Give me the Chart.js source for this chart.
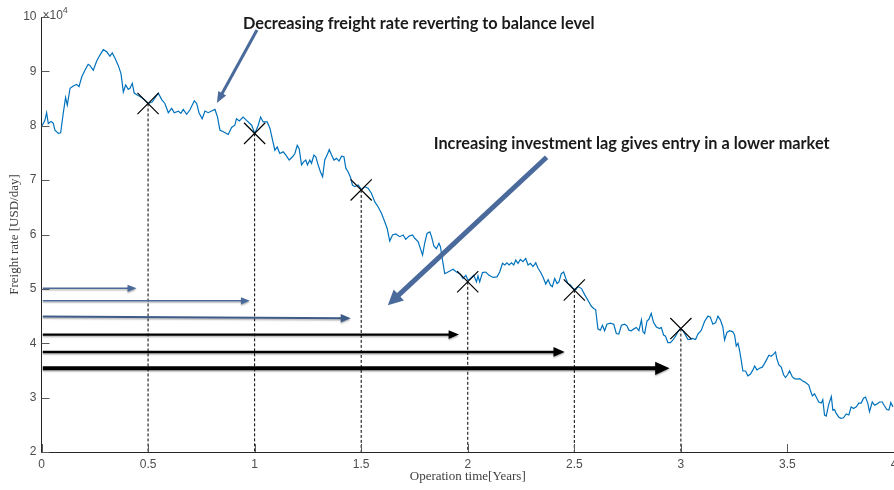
<!DOCTYPE html>
<html>
<head>
<meta charset="utf-8">
<script src="https://cdn.jsdelivr.net/npm/chart.js@4/dist/chart.umd.min.js"></script>
<style>
  html, body { margin: 0; padding: 0; background: #ffffff; overflow: hidden; }
  #wrap { width: 894px; height: 490px; position: relative; }
  canvas { display: block; }
</style>
</head>
<body>
<div id="wrap"><canvas id="c" width="894" height="490"></canvas></div>
<script>
// Simulated freight rate path: time in years, rate in units of 10^4 USD/day
const yearsT = [0.001,0.016,0.024,0.032,0.045,0.055,0.063,0.079,0.090,0.102,0.113,0.121,0.134,0.149,0.165,0.176,0.189,0.204,0.219,0.227,0.243,0.259,0.274,0.290,0.306,0.321,0.332,0.345,0.360,0.373,0.384,0.395,0.407,0.415,0.426,0.435,0.451,0.470,0.485,0.501,0.520,0.548,0.564,0.579,0.595,0.611,0.623,0.642,0.654,0.665,0.681,0.696,0.717,0.728,0.739,0.754,0.767,0.782,0.798,0.814,0.826,0.837,0.853,0.876,0.892,0.907,0.915,0.928,0.946,0.962,0.986,1.001,1.017,1.028,1.040,1.059,1.072,1.084,1.095,1.106,1.118,1.134,1.147,1.162,1.178,1.189,1.200,1.209,1.220,1.231,1.240,1.248,1.259,1.267,1.278,1.287,1.298,1.309,1.319,1.329,1.340,1.350,1.361,1.372,1.384,1.396,1.408,1.419,1.428,1.439,1.450,1.459,1.470,1.486,1.502,1.517,1.532,1.548,1.564,1.579,1.595,1.611,1.622,1.634,1.647,1.662,1.681,1.697,1.709,1.725,1.741,1.751,1.767,1.778,1.788,1.798,1.809,1.822,1.830,1.841,1.853,1.865,1.872,1.884,1.892,1.903,1.916,1.931,1.947,1.963,1.978,1.991,2.001,2.013,2.028,2.041,2.048,2.056,2.069,2.084,2.100,2.119,2.137,2.150,2.163,2.174,2.184,2.194,2.205,2.216,2.225,2.236,2.247,2.259,2.272,2.283,2.294,2.306,2.319,2.330,2.341,2.353,2.366,2.377,2.388,2.397,2.408,2.419,2.428,2.439,2.450,2.460,2.470,2.482,2.494,2.506,2.517,2.533,2.549,2.564,2.580,2.591,2.600,2.611,2.622,2.632,2.642,2.653,2.669,2.685,2.697,2.709,2.721,2.736,2.747,2.756,2.768,2.778,2.791,2.803,2.815,2.822,2.830,2.841,2.850,2.861,2.872,2.885,2.900,2.908,2.919,2.928,2.939,2.951,2.963,2.975,2.986,2.997,3.010,3.022,3.033,3.044,3.054,3.069,3.080,3.096,3.111,3.127,3.138,3.150,3.163,3.174,3.185,3.197,3.205,3.216,3.229,3.244,3.252,3.260,3.268,3.275,3.283,3.291,3.304,3.314,3.326,3.338,3.346,3.357,3.369,3.382,3.393,3.401,3.413,3.424,3.435,3.444,3.450,3.460,3.471,3.482,3.491,3.502,3.510,3.523,3.533,3.544,3.557,3.570,3.580,3.591,3.600,3.607,3.617,3.627,3.638,3.647,3.659,3.666,3.674,3.682,3.694,3.706,3.713,3.721,3.729,3.741,3.752,3.763,3.776,3.788,3.799,3.810,3.823,3.835,3.846,3.857,3.866,3.877,3.885,3.898,3.909,3.919,3.932,3.945,3.955,3.966,3.976,3.985,3.995];
const rateE4 = [7.99,8.10,8.24,8.04,8.08,8.05,7.92,7.86,7.87,8.23,8.52,8.38,8.69,8.73,8.76,8.72,8.90,9.02,9.13,9.11,9.02,9.19,9.30,9.40,9.36,9.28,9.34,9.24,9.11,8.96,8.62,8.75,8.67,8.69,8.78,8.60,8.56,8.52,8.47,8.41,8.44,8.60,8.48,8.41,8.24,8.32,8.24,8.27,8.23,8.30,8.21,8.29,8.46,8.41,8.24,8.13,8.27,8.24,8.27,8.30,8.16,7.92,7.89,7.84,7.97,8.01,8.13,8.09,8.16,8.10,8.01,7.86,8.01,8.16,8.07,8.07,7.95,7.74,7.55,7.61,7.49,7.52,7.46,7.37,7.43,7.49,7.64,7.58,7.28,7.34,7.37,7.28,7.37,7.31,7.46,7.43,7.28,7.15,7.06,7.37,7.46,7.56,7.46,7.37,7.40,7.35,7.44,7.43,7.22,7.15,7.05,6.91,6.88,6.91,6.82,6.88,6.85,6.76,6.60,6.51,6.39,6.23,6.11,5.88,5.99,6.01,5.96,5.99,5.91,5.97,5.99,5.93,5.87,5.74,5.62,5.84,6.02,6.05,5.96,5.79,5.74,5.84,5.77,5.47,5.28,5.30,5.33,5.36,5.31,5.28,5.19,5.25,5.16,5.19,5.25,5.13,5.24,5.13,5.30,5.31,5.25,5.21,5.22,5.31,5.47,5.44,5.48,5.44,5.48,5.44,5.53,5.47,5.54,5.50,5.56,5.44,5.47,5.41,5.48,5.38,5.31,5.22,5.09,5.17,5.07,5.04,5.19,5.10,5.13,5.28,5.31,5.19,5.10,5.07,5.01,4.98,5.04,5.01,4.89,4.79,4.68,4.64,4.62,4.26,4.24,4.33,4.23,4.35,4.37,4.35,4.18,4.17,4.33,4.35,4.32,4.24,4.23,4.26,4.29,4.23,4.43,4.21,4.18,4.41,4.44,4.55,4.38,4.30,4.27,4.29,4.15,4.13,4.01,4.01,4.06,4.13,4.21,4.27,4.23,4.15,4.07,4.07,4.09,4.07,4.17,4.24,4.40,4.50,4.48,4.35,4.38,4.50,4.43,4.30,4.06,4.20,4.23,4.21,4.15,3.95,4.00,3.88,3.69,3.49,3.49,3.40,3.43,3.51,3.58,3.51,3.54,3.56,3.63,3.69,3.78,3.76,3.80,3.84,3.72,3.60,3.56,3.42,3.37,3.43,3.49,3.38,3.35,3.34,3.35,3.31,3.29,3.26,3.23,3.14,3.03,3.07,2.99,2.92,2.90,2.96,2.68,2.66,2.88,3.02,2.77,2.78,2.71,2.64,2.62,2.63,2.70,2.68,2.83,2.80,2.83,2.90,2.90,2.99,3.01,2.90,2.74,2.92,2.86,2.88,2.92,2.92,2.85,2.78,2.77,2.91,2.83];

// Market entry after each investment lag (years) and the rate met there
const entryYears = [0.5, 1.0, 1.5, 2.0, 2.5, 3.0];
const entryRates = [8.41, 7.86, 6.82, 5.13, 4.98, 4.27];

// Investment-lag arrows: start time, end time, level at start and at end
const lagStart = 0.006;
const lagEnds = [0.446, 0.978, 1.451, 1.959, 2.455, 2.947];
const lagLevelFrom = [5.01, 4.78, 4.49, 4.16, 3.84, 3.54];
const lagLevelTo   = [5.01, 4.78, 4.46, 4.16, 3.84, 3.54];
const lagColors = ['#4a6a9b', '#4a6a9b', '#3f5b88', '#000000', '#000000', '#000000'];
const lagWidths = [1.5, 1.5, 2, 2.2, 2.6, 4.2];

// Callout arrows (tail -> head) in data coordinates
const callouts = [
  { from: [1.011, 9.76], to: [0.823, 8.42], width: 3, head: [11, 9] },
  { from: [2.370, 7.42], to: [1.625, 4.70], width: 5, head: [15, 15] }
];
const calloutTexts = [
  { text: 'Decreasing freight rate reverting to balance level', at: [1.770, 9.87] },
  { text: 'Increasing investment lag gives entry in a lower market', at: [2.769, 7.66] }
];

const xTicks = [0, 0.5, 1, 1.5, 2, 2.5, 3, 3.5, 4];
const yTicks = [2, 3, 4, 5, 6, 7, 8, 9, 10];

const datasets = [];

datasets.push({
  label: 'Freight rate',
  data: yearsT.map((t, i) => ({ x: t, y: rateE4[i] })),
  showLine: true, borderColor: '#0072BD', borderWidth: 1.2,
  pointRadius: 0, tension: 0, order: 2
});

entryYears.forEach((t, i) => {
  datasets.push({
    label: 'lag ' + t,
    data: [{ x: t, y: entryRates[i] }, { x: t, y: 2 }],
    showLine: true, borderColor: '#000000', borderWidth: 1,
    borderDash: [3, 2], pointRadius: 0, order: 4
  });
});

lagEnds.forEach((t, i) => {
  datasets.push({
    label: 'lag arrow ' + i,
    data: [{ x: lagStart, y: lagLevelFrom[i] }, { x: t, y: lagLevelTo[i] }],
    showLine: true, borderColor: lagColors[i], borderWidth: lagWidths[i],
    pointRadius: 0, order: 3,
    arrow: { len: 6 + lagWidths[i] * 2, wid: 4 + lagWidths[i] * 2.2, shadow: true }
  });
});

callouts.forEach((c, i) => {
  datasets.push({
    label: 'callout ' + i,
    data: [{ x: c.from[0], y: c.from[1] }, { x: c.to[0], y: c.to[1] }],
    showLine: true, borderColor: '#4a6a9b', borderWidth: c.width,
    pointRadius: 0, order: 1,
    arrow: { len: c.head[0], wid: c.head[1], shadow: false }
  });
});

datasets.push({
  label: 'entry',
  data: entryYears.map((t, i) => ({ x: t, y: entryRates[i] })),
  showLine: false, pointStyle: 'crossRot', pointRadius: 15, pointHoverRadius: 15,
  borderColor: '#000000', borderWidth: 1.2, order: 0
});

function headGeom(chart, i, ds) {
  const pts = chart.getDatasetMeta(i).data;
  const a = pts[pts.length - 2], b = pts[pts.length - 1];
  const ang = Math.atan2(b.y - a.y, b.x - a.x);
  return { b, cos: Math.cos(ang), sin: Math.sin(ang), L: ds.arrow.len, W: ds.arrow.wid };
}

const arrowHeads = {
  id: 'arrowHeads',
  beforeDatasetDraw(chart, args) {
    const ds = chart.data.datasets[args.index];
    if (!ds.arrow) return;
    const ctx = chart.ctx;
    const g = headGeom(chart, args.index, ds);
    const bx = g.b.x - g.cos * g.L * 0.7, by = g.b.y - g.sin * g.L * 0.7;
    const big = 3000;
    ctx.save();
    ctx.beginPath();
    ctx.moveTo(bx - g.sin * big, by + g.cos * big);
    ctx.lineTo(bx + g.sin * big, by - g.cos * big);
    ctx.lineTo(bx + g.sin * big - g.cos * big, by - g.cos * big - g.sin * big);
    ctx.lineTo(bx - g.sin * big - g.cos * big, by + g.cos * big - g.sin * big);
    ctx.closePath();
    ctx.clip();
    if (ds.arrow.shadow) {
      ctx.shadowColor = 'rgba(0,0,0,0.28)';
      ctx.shadowOffsetY = 1.5;
      ctx.shadowBlur = 1.5;
    }
  },
  afterDatasetDraw(chart, args) {
    const ds = chart.data.datasets[args.index];
    if (!ds.arrow) return;
    const ctx = chart.ctx;
    ctx.restore();
    const g = headGeom(chart, args.index, ds);
    ctx.save();
    if (ds.arrow.shadow) {
      ctx.shadowColor = 'rgba(0,0,0,0.28)';
      ctx.shadowOffsetY = 1.5;
      ctx.shadowBlur = 1.5;
    }
    const bx = g.b.x - g.cos * g.L, by = g.b.y - g.sin * g.L;
    ctx.fillStyle = ds.borderColor;
    ctx.beginPath();
    ctx.moveTo(g.b.x, g.b.y);
    ctx.lineTo(bx - g.sin * g.W / 2, by + g.cos * g.W / 2);
    ctx.lineTo(bx + g.sin * g.W / 2, by - g.cos * g.W / 2);
    ctx.closePath();
    ctx.fill();
    ctx.restore();
  }
};

const decorations = {
  id: 'decorations',
  afterDraw(chart) {
    const ctx = chart.ctx;
    const xs = chart.scales.x, ys = chart.scales.y;
    const area = chart.chartArea;
    ctx.save();
    // inward tick marks
    ctx.strokeStyle = '#5a5a5a';
    ctx.lineWidth = 1;
    ctx.beginPath();
    xTicks.forEach(v => {
      const px = Math.round(xs.getPixelForValue(v)) + 0.5;
      ctx.moveTo(px, area.bottom);
      ctx.lineTo(px, area.bottom - 8);
    });
    yTicks.forEach(v => {
      const py = Math.round(ys.getPixelForValue(v)) + 0.5;
      ctx.moveTo(area.left, py);
      ctx.lineTo(area.left + 8, py);
    });
    ctx.stroke();

    // exponent label of the y axis
    ctx.fillStyle = '#4d4d4d';
    ctx.font = '12px "Liberation Sans", Arial, sans-serif';
    ctx.textBaseline = 'alphabetic';
    ctx.textAlign = 'left';
    ctx.fillText('\u00d710', area.left + 1, area.top + 2);
    const w = ctx.measureText('\u00d710').width;
    ctx.font = '9px "Liberation Sans", Arial, sans-serif';
    ctx.fillText('4', area.left + 1 + w, area.top - 4);

    // axis titles
    ctx.fillStyle = '#404040';
    ctx.font = '13px "Liberation Serif", "DejaVu Serif", serif';
    ctx.textAlign = 'center';
    ctx.textBaseline = 'middle';
    ctx.fillText('Operation time[Years]', (area.left + area.right) / 2, 477);
    ctx.save();
    ctx.translate(15, (area.top + area.bottom) / 2);
    ctx.rotate(-Math.PI / 2);
    ctx.fillText('Freight rate [USD/day]', 0, 0);
    ctx.restore();

    // callout texts
    ctx.fillStyle = '#1a1a1a';
    ctx.font = 'bold 16.3px Lato, "Open Sans", sans-serif';
    calloutTexts.forEach(c => {
      ctx.fillText(c.text, xs.getPixelForValue(c.at[0]), ys.getPixelForValue(c.at[1]));
    });
    ctx.restore();
  }
};

new Chart(document.getElementById('c'), {
  type: 'scatter',
  data: { datasets },
  options: {
    responsive: false,
    animation: false,
    devicePixelRatio: 1,
    layout: { autoPadding: false, padding: { top: 17, right: 0, left: 0, bottom: 0 } },
    plugins: { legend: { display: false }, tooltip: { enabled: false } },
    scales: {
      x: {
        type: 'linear', min: 0, max: 4,
        afterBuildTicks: s => { s.ticks = xTicks.map(v => ({ value: v })); },
        afterFit: s => { s.height = 38; s.paddingLeft = 0; s.paddingRight = 0; },
        grid: { display: false, drawTicks: false },
        border: { display: true, color: '#262626', width: 1 },
        ticks: { color: '#4d4d4d', padding: 5, font: { family: '"Liberation Sans", Arial, sans-serif', size: 12 },
                 maxRotation: 0, callback: v => String(v) }
      },
      y: {
        type: 'linear', min: 2, max: 10,
        afterBuildTicks: s => { s.ticks = yTicks.map(v => ({ value: v })); },
        afterFit: s => { s.width = 41.5; s.paddingTop = 0; s.paddingBottom = 0; },
        grid: { display: false, drawTicks: false },
        border: { display: true, color: '#262626', width: 1 },
        ticks: { color: '#4d4d4d', padding: 5, font: { family: '"Liberation Sans", Arial, sans-serif', size: 12 },
                 callback: v => String(v) }
      }
    }
  },
  plugins: [arrowHeads, decorations]
});
</script>
</body>
</html>
